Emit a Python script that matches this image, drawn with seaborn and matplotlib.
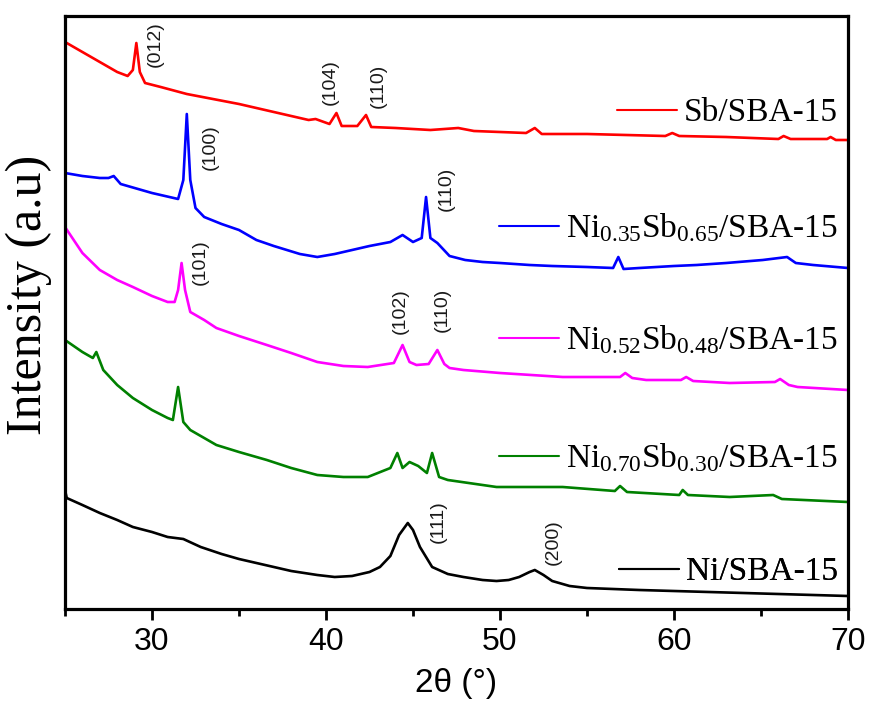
import matplotlib
matplotlib.use("Agg")
import matplotlib.pyplot as plt
import seaborn as sns
import pandas as pd

# ---------------- data (2theta in degrees, intensity in arbitrary units) -------------
sb_x = [25.0, 26.0, 27.0, 28.0, 28.6, 28.9, 29.1, 29.3, 29.6, 30.5, 32.0, 33.5, 35.0, 37.0,
        39.0, 39.4, 40.2, 40.6, 40.9, 41.8, 42.3, 42.6, 44.0, 46.0, 47.6, 48.5, 51.5, 52.0,
        52.4, 55.0, 59.5, 59.9, 60.3, 63.0, 66.0, 66.3, 66.7, 68.8, 69.0, 69.3, 70.0]
sb_y = [567, 557, 547, 537, 533, 539, 566, 537, 526, 522, 515, 510, 505, 497,
        489, 490, 485, 496, 483, 483, 494, 482, 481, 479, 481, 478, 476, 481,
        475, 475, 473, 476, 473, 472, 470, 473, 470, 470, 472, 469, 469]

n35_x = [25.0, 26.0, 27.0, 27.5, 27.8, 28.2, 29.0, 30.0, 31.0, 31.5, 31.8, 32.0, 32.2, 32.5,
         33.0, 34.0, 35.0, 36.0, 37.0, 38.5, 39.5, 40.5, 41.5, 42.5, 43.7, 44.4, 45.0, 45.5,
         45.75, 46.0, 46.4, 47.1, 48.0, 49.0, 50.0, 51.7, 53.0, 55.0, 56.5, 56.8, 57.1, 58.0,
         60.0, 61.3, 63.0, 65.1, 66.5, 67.0, 68.0, 70.0]
n35_y = [436, 433, 431, 431, 433, 425, 421, 416, 412, 410, 429, 495, 429, 401,
         392, 385, 379, 369, 363, 355, 352, 355, 359, 363, 367, 374, 367, 371,
         412, 371, 366, 353, 349, 347, 346, 344, 343, 342, 341, 352, 340, 341,
         343, 344, 346, 349, 352, 346, 344, 341]

n52_x = [25.0, 25.5, 26.0, 27.0, 28.0, 28.9, 30.0, 30.9, 31.3, 31.5, 31.7, 31.9, 32.2, 33.0,
         33.7, 35.0, 36.6, 38.0, 39.5, 41.0, 42.4, 43.9, 44.4, 44.8, 45.2, 45.9, 46.4, 46.8,
         47.1, 47.9, 50.0, 53.6, 56.9, 57.2, 57.6, 58.4, 60.4, 60.7, 61.1, 63.2, 65.8, 66.1,
         66.6, 67.1, 70.0]
n52_y = [382, 369, 356, 339, 329, 322, 313, 307, 307, 319, 346, 319, 297, 289,
         281, 273, 264, 256, 247, 243, 242, 246, 264, 247, 244, 245, 259, 245,
         241, 239, 236, 232, 232, 236, 231, 229, 229, 232, 228, 226, 227, 230,
         224, 222, 219]

n70_x = [25.0, 26.0, 26.6, 26.8, 27.2, 28.0, 28.9, 30.0, 30.9, 31.2, 31.5, 31.8, 32.2, 33.0,
         33.7, 35.0, 36.6, 38.0, 39.5, 41.0, 42.4, 43.7, 44.1, 44.4, 44.8, 45.3, 45.8, 46.1,
         46.5, 47.0, 49.8, 53.6, 56.6, 56.9, 57.3, 60.3, 60.5, 60.8, 63.2, 65.7, 66.2, 70.0]
n70_y = [269, 257, 251, 257, 239, 224, 211, 199, 191, 189, 222, 187, 179, 171,
         164, 157, 149, 141, 134, 132, 132, 141, 156, 141, 147, 143, 136, 156,
         132, 129, 122, 122, 118, 123, 117, 114, 119, 114, 112, 114, 110, 107]

ni_x = [25.0, 25.1, 26.0, 27.0, 28.0, 28.9, 30.0, 30.9, 31.8, 32.8, 34.0, 35.0, 36.5, 38.0,
        39.5, 40.5, 41.5, 42.5, 43.1, 43.7, 44.2, 44.7, 45.0, 45.4, 46.1, 47.0, 47.9, 49.0,
        49.8, 50.5, 51.1, 51.7, 52.0, 52.5, 53.0, 54.0, 55.0, 58.0, 62.0, 66.0, 70.0]
ni_y = [119, 111, 104, 96, 89, 82, 77, 72, 70, 62, 55, 50, 44, 38,
        34, 32, 33, 37, 42, 53, 74, 86, 79, 62, 42, 35, 32, 29,
        28, 29, 32, 37, 39, 34, 28, 23, 21, 19, 17, 15, 13]

series = ["Sb/SBA-15", "Ni$_{0.35}$Sb$_{0.65}$/SBA-15", "Ni$_{0.52}$Sb$_{0.48}$/SBA-15",
          "Ni$_{0.70}$Sb$_{0.30}$/SBA-15", "Ni/SBA-15"]
xs = [sb_x, n35_x, n52_x, n70_x, ni_x]
ys = [sb_y, n35_y, n52_y, n70_y, ni_y]
colors = ["#ff0000", "#0000ff", "#ff00ff", "#008000", "#000000"]

# peak labels: (text, 2theta, intensity)
peak_text = ["(012)", "(104)", "(110)", "(100)", "(110)", "(101)", "(102)", "(110)", "(111)", "(200)"]
peak_x = [30.17, 40.23, 42.99, 33.33, 46.9, 32.76, 44.25, 46.67, 46.44, 53.05]
peak_y = [565, 527, 523, 462, 420, 347, 298, 299, 87, 67]

xticks = [30, 40, 50, 60, 70]

# ---------------- styling -------------
sns.set_style("ticks")
plt.rcParams["font.family"] = ["Liberation Sans", "DejaVu Sans"]
plt.rcParams["mathtext.fontset"] = "custom"
plt.rcParams["mathtext.rm"] = "Liberation Serif"
plt.rcParams["mathtext.it"] = "Liberation Serif:italic"
plt.rcParams["text.color"] = "black"
plt.rcParams["axes.edgecolor"] = "black"
plt.rcParams["axes.labelcolor"] = "black"
plt.rcParams["xtick.color"] = "black"
plt.rcParams["xtick.labelcolor"] = "black"

fig = plt.figure(figsize=(8.7, 7.08), dpi=100)
ax = fig.add_axes([65 / 870, 1 - 609 / 708, 783 / 870, 593 / 708])

lines = []
for name, x, y, c in zip(series, xs, ys, colors):
    df = pd.DataFrame({"theta": x, "intensity": y})
    sns.lineplot(data=df, x="theta", y="intensity", color=c, linewidth=1.9, ax=ax, legend=False)
    lines.append(ax.lines[-1])

ax.set_xlim(25, 70)
ax.set_ylim(0, 593)
ax.set_xticks(xticks)
ax.set_xticks([25, 35, 45, 55, 65], minor=True)
ax.set_yticks([])
for s in ax.spines.values():
    s.set_linewidth(2.3)
    s.set_visible(True)
    s.set_color("black")
ax.tick_params(axis="x", which="major", length=8, width=2, direction="out", pad=5,
               labelsize=23, color="black", labelcolor="black")
ax.tick_params(axis="x", which="minor", length=5, width=2, direction="out", color="black")
for lab in ax.get_xticklabels():
    lab.set_family(["Liberation Sans", "DejaVu Sans"])

ax.set_xlabel("2θ (°)", fontsize=24, labelpad=8, family=["Liberation Sans", "DejaVu Sans"],
              color="black")
ax.set_ylabel("Intensity (a.u)", fontsize=36, family=["Liberation Serif", "DejaVu Serif"],
              color="black")
ax.yaxis.set_label_coords(-0.017, 0.53)

for t, px, py in zip(peak_text, peak_x, peak_y):
    ax.text(px, py, t, rotation=90, ha="center", va="center", fontsize=14, color="#1a1a1a")

# individual legend entries, right-aligned next to each curve
leg_y = [113, 228, 340, 458, 572]
for line, name, py in zip(lines, series, leg_y):
    yfrac = (609 - py) / 593
    leg = ax.legend([line], [name], loc="center right", bbox_to_anchor=(0.987, yfrac),
                    frameon=False, handlelength=1.8, handletextpad=0.2, borderpad=0,
                    borderaxespad=0, prop={"family": "Liberation Serif", "size": 24})
    for h in leg.legend_handles:
        h.set_linewidth(1.5)
    for txt in leg.get_texts():
        txt.set_color("black")
    ax.add_artist(leg)

fig.savefig("out.png", dpi=100)
